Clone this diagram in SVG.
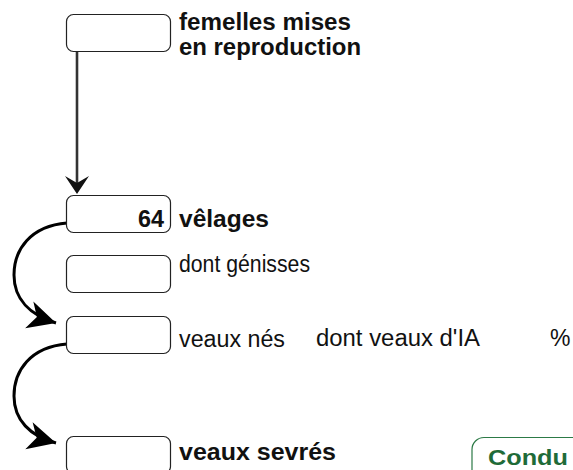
<svg xmlns="http://www.w3.org/2000/svg" width="573" height="470" viewBox="0 0 573 470">
<style>
.box{fill:#fff;stroke:#222;stroke-width:1.2}
.t{font-family:"Liberation Sans",Arial,sans-serif;font-size:23px;fill:#111}
.b{font-weight:bold}
.conn{fill:none;stroke:#000;stroke-width:3}
</style>
<defs>
<marker id="ah" markerUnits="userSpaceOnUse" markerWidth="34" markerHeight="34" viewBox="-30 -16 34 32" refX="0" refY="0" orient="auto">
<path d="M0,0 L-28,-14 L-20,0 L-28,14 Z" fill="#000"/>
</marker>
</defs>
<rect width="573" height="470" fill="#fff"/>
<g id="connectors">
<line x1="77" y1="52" x2="77" y2="184" stroke="#333" stroke-width="2.6"/>
<path d="M77,194 L65,176 L77,183 L89,176 Z" fill="#111"/>
<path class="conn" d="M67,223 C30,226 14,250 14,275 C14,299 30,315 56,323" marker-end="url(#ah)"/>
<path class="conn" d="M67,344 C30,347 14,371 14,396 C14,420 30,436 56,443" marker-end="url(#ah)"/>
</g>
<g id="n1">
<rect class="box" x="66.5" y="14.5" width="104" height="37" rx="7"/>
<text class="t b" x="179" y="30" textLength="172" lengthAdjust="spacingAndGlyphs">femelles mises</text>
<text class="t b" x="179" y="54.5" textLength="182" lengthAdjust="spacingAndGlyphs">en reproduction</text>
</g>
<g id="n2">
<rect class="box" x="66.5" y="195.5" width="104" height="37" rx="7"/>
<text class="t b" x="164" y="226.5" text-anchor="end" textLength="26" lengthAdjust="spacingAndGlyphs">64</text>
<text class="t b" x="179" y="226.5" textLength="90" lengthAdjust="spacingAndGlyphs">vêlages</text>
</g>
<g id="n3">
<rect class="box" x="66.5" y="255.5" width="104" height="37" rx="7"/>
<text class="t" x="179" y="272" textLength="131" lengthAdjust="spacingAndGlyphs">dont génisses</text>
</g>
<g id="n4">
<rect class="box" x="66.5" y="316.5" width="104" height="37" rx="7"/>
<text class="t" x="179" y="346.5" textLength="106" lengthAdjust="spacingAndGlyphs">veaux nés</text>
<text class="t" x="316" y="345.5" textLength="164" lengthAdjust="spacingAndGlyphs">dont veaux d'IA</text>
<text class="t" x="550" y="345.5">%</text>
</g>
<g id="n5">
<rect class="box" x="66.5" y="436.5" width="104" height="37" rx="7"/>
<text class="t b" x="179" y="460" textLength="157" lengthAdjust="spacingAndGlyphs">veaux sevrés</text>
</g>
<g id="n6">
<rect x="472" y="437.5" width="130" height="50" rx="12" fill="#fff" stroke="#2c7a46" stroke-width="1.2"/>
<text class="t b" x="488" y="465" style="fill:#1f6b38;font-size:22px" textLength="80" lengthAdjust="spacingAndGlyphs">Condu</text>
</g>
</svg>
